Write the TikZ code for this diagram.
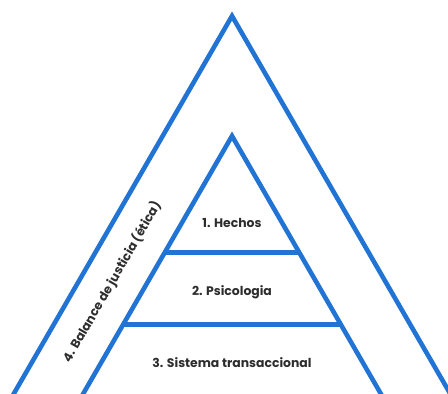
\documentclass[tikz,border=0pt]{standalone}
\usepackage{fontspec}
\setmainfont{Poppins}
\definecolor{pyblue}{RGB}{33,115,212}
\definecolor{pytext}{RGB}{45,45,45}
\begin{document}
\begin{tikzpicture}[x=1pt,y=-1pt,
  edge/.style={draw=pyblue,line width=4.6pt,line join=miter,line cap=butt},
  lbl/.style={text=pytext,font=\bfseries\fontsize{12.4}{14}\selectfont,inner sep=0pt}]
  \useasboundingbox (0,0) rectangle (448,394);
  \begin{scope}
    \clip (0,0) rectangle (448,394);
    % outer triangle (ethics band)
    \coordinate (oa) at (232,16);
    \coordinate (ol) at (9,402);
    \coordinate (or) at (455,402);
    \draw[edge] (ol) -- (oa) -- (or);
    % inner triangle
    \coordinate (ia) at (232,136);
    \coordinate (il) at (79,401);
    \coordinate (ir) at (385,401);
    \draw[edge] (il) -- (ia) -- (ir);
    % level separators
    \coordinate (s1l) at (164.6,252.5);
    \coordinate (s1r) at (299.4,252.5);
    \coordinate (s2l) at (123.4,324.5);
    \coordinate (s2r) at (340.6,324.5);
    \draw[edge] (s1l) -- (s1r);
    \draw[edge] (s2l) -- (s2r);
  \end{scope}
  \node[lbl] (l1) at (232,223) {1. Hechos};
  \node[lbl] (l2) at (232,292) {2. Psicologia};
  \node[lbl] (l3) at (232,363) {3. Sistema transaccional};
  \node[lbl,rotate=60] (l4) at (112,282) {4. Balance de justicia (ética)};
\end{tikzpicture}
\end{document}
